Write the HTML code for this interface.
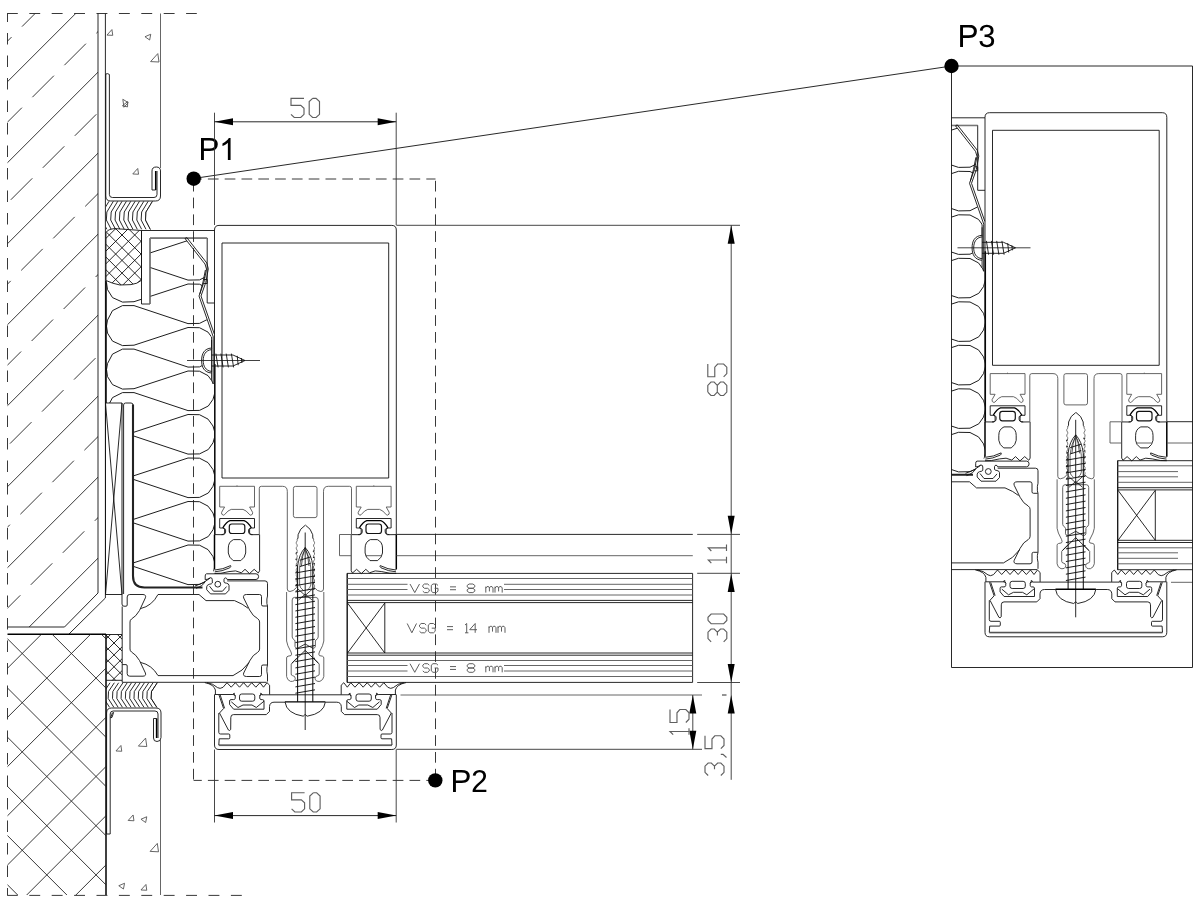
<!DOCTYPE html>
<html lang="en"><head><meta charset="utf-8"><title>Fassadenanschluss Detail P1-P3</title>
<style>
html,body{margin:0;padding:0;background:#fff;}
body{width:1200px;height:909px;overflow:hidden;font-family:"Liberation Sans",sans-serif;}
svg{display:block;position:absolute;left:0;top:0;}
path,line,circle,rect,polyline{fill:none;stroke:#111;stroke-width:0.9;stroke-linecap:butt;stroke-linejoin:round;}
.k{stroke:#111;stroke-width:0.9;}
.t{stroke:#000;stroke-width:1.5;}
.g{stroke:#555;stroke-width:0.9;}
.h{stroke:#222;stroke-width:0.9;}
.gl{stroke:#777;stroke-width:1.3;}
.w{fill:#fff;}
.txt{stroke:#5f5f5f;stroke-width:1.15;stroke-linejoin:miter;}
.txs{stroke:#555;stroke-width:0.95;stroke-linejoin:miter;}
.dash{stroke:#222;stroke-width:0.9;}
.fillk{fill:#000;stroke:none;}
text{font-family:"Liberation Sans",sans-serif;font-size:31px;fill:#000;stroke:#000;stroke-width:0.45;}
</style></head><body>
<svg width="1200" height="909" viewBox="0 0 1200 909">
<defs>
<clipPath id="wallclip"><path d="M7.5,13.5 H98 V593 L64,627 H7.5 Z"/></clipPath>
<clipPath id="insclip"><rect x="7.5" y="634.5" width="98.5" height="260.5"/></clipPath>
<clipPath id="detclip"><rect x="951.5" y="66" width="241" height="601.5"/></clipPath>
<clipPath id="tape1"><path d="M106,201 H152.5 L146,212 L145.5,220 L150.5,229.6 H106 Z"/></clipPath>
<clipPath id="tape2"><path d="M106,682.5 H157.5 L151.5,693 L151.5,698 L157,707.5 H106 Z"/></clipPath>
<clipPath id="rodclip"><path d="M106,232.5 Q108,229 115,228.6 L141.5,230.5 V280.3 Q137,284 131,284.6 L120,285 Q112,283.5 106,280.5 Z"/></clipPath>
<clipPath id="stripclip"><rect x="106" y="634.5" width="16" height="46"/></clipPath>
<clipPath id="serp"><path d="M150,238.5 H185 L205,264 L206.5,269 L204,282 L199,296 L211.5,334 V384 L214.3,392 V571 L205.3,574 V581 L202,586.5 H143 Q133.5,586 133.5,576 V403 H105.5 V282 L120,285.5 L132,285 L141.5,281 V304.5 H150 Z"/></clipPath>
<g id="drw">
<g clip-path="url(#wallclip)"><path class="h" d="M0,89.2 L89.2,0 M0,170.2 L170.2,0 M0,251.2 L251.2,0 M0,332.2 L332.2,0 M0,413.2 L413.2,0 M0,494.2 L494.2,0 M0,575.2 L575.2,0 M0,656.2 L656.2,0 M0,737.2 L737.2,0"/>
<path class="h" d="M-42,90.6 L-20.5,69.1 M-10,58.6 L11.5,37.1 M22,26.6 L43.5,5.1 M54,-5.4 L75.5,-26.9 M86,-37.4 L107.5,-58.9 M-63.6,193.2 L-42.1,171.7 M-31.6,161.2 L-10.1,139.7 M0.4,129.2 L21.9,107.7 M32.4,97.2 L53.9,75.7 M64.4,65.2 L85.9,43.7 M96.4,33.2 L117.9,11.7 M-53.2,263.8 L-31.7,242.3 M-21.2,231.8 L0.3,210.3 M10.8,199.8 L32.3,178.3 M42.8,167.8 L64.3,146.3 M74.8,135.8 L96.3,114.3 M-42.8,334.4 L-21.3,312.9 M-10.8,302.4 L10.7,280.9 M21.2,270.4 L42.7,248.9 M53.2,238.4 L74.7,216.9 M85.2,206.4 L106.7,184.9 M-32.4,405 L-10.9,383.5 M-0.4,373 L21.1,351.5 M31.6,341 L53.1,319.5 M63.6,309 L85.1,287.5 M95.6,277 L117.1,255.5 M-54,507.6 L-32.5,486.1 M-22,475.6 L-0.5,454.1 M10,443.6 L31.5,422.1 M42,411.6 L63.5,390.1 M74,379.6 L95.5,358.1 M-43.6,578.2 L-22.1,556.7 M-11.6,546.2 L9.9,524.7 M20.4,514.2 L41.9,492.7 M52.4,482.2 L73.9,460.7 M84.4,450.2 L105.9,428.7 M-33.2,648.8 L-11.7,627.3 M-1.2,616.8 L20.3,595.3 M30.8,584.8 L52.3,563.3 M62.8,552.8 L84.3,531.3 M94.8,520.8 L116.3,499.3 M-54.8,751.4 L-33.3,729.9 M-22.8,719.4 L-1.3,697.9 M9.2,687.4 L30.7,665.9 M41.2,655.4 L62.7,633.9 M73.2,623.4 L94.7,601.9"/></g>
<path class="k" d="M98,13.5 V593 L64.5,627 H7.5"/>
<path class="k" d="M105.4,13.5 V598 L69,634"/>
<path class="t" d="M7.5,634.2 H106"/>
<path class="t" d="M106,634 V895"/>
<g clip-path="url(#insclip)"><path class="h" d="M0,478.9 L478.9,0 M0,528.1 L528.1,0 M0,577.3 L577.3,0 M0,626.5 L626.5,0 M0,675.7 L675.7,0 M0,724.9 L724.9,0 M0,774.1 L774.1,0 M0,823.3 L823.3,0 M0,872.5 L872.5,0 M0,921.7 L921.7,0 M0,970.9 L970.9,0 M0,1020.1 L1020.1,0 M0,975.7 L200,1175.7 M0,926.5 L200,1126.5 M0,877.3 L200,1077.3 M0,828.1 L200,1028.1 M0,778.9 L200,978.9 M0,729.7 L200,929.7 M0,680.5 L200,880.5 M0,631.3 L200,831.3 M0,582.1 L200,782.1 M0,532.9 L200,732.9 M0,483.7 L200,683.7 M0,434.5 L200,634.5 M0,385.3 L200,585.3 M0,336.1 L200,536.1 M0,286.9 L200,486.9 M0,237.7 L200,437.7 M0,188.5 L200,388.5 M0,139.3 L200,339.3 M0,90.1 L200,290.1 M0,40.9 L200,240.9 M0,-8.3 L200,191.7 M0,-57.5 L200,142.5 M0,-106.7 L200,93.3"/></g>
<path class="g" d="M106.97,35.08 L112.75,35.35 L111.92,29.58Z M144.97,36.73 L150.75,34.25 L149.65,40.02Z M150.6,61.6 L159,62 L157.8,53.6Z M123.95,107.26 L128.23,102.63 L122.82,99.27Z M122.4,105.74 L127.53,106.9 L127.7,101.6Z M132.78,173.97 L138.55,174.25 L137.73,168.47Z M115.97,750.98 L121.75,751.25 L120.92,745.48Z M138.4,746.1 L146.8,746.5 L145.6,738.1Z M128.17,820.48 L133.95,820.75 L133.12,814.98Z M140.97,819.23 L146.75,816.75 L145.65,822.52Z M150.1,851.4 L158.5,851.8 L157.3,843.4Z M118.77,885.73 L124.55,883.25 L123.45,889.02Z M140.97,889.98 L146.75,890.25 L145.93,884.48Z"/>
<path class="k" d="M105.8,74 V196 Q105.8,201 110.8,201 H155.5 Q160.5,201 160.5,196 V171 Q160.5,167 156.3,167 Q152,167 152,171 V190 H155.6"/>
<path class="k" d="M109.4,74.5 V194.5 Q109.4,197.5 112.4,197.5 H154 Q157,197.5 157,194.5 V171"/>
<path class="k" d="M105.8,74 Q107.6,73 109.4,74.5"/>
<path class="t" d="M155.7,171 V190"/>
<path class="g" d="M160.5,13.5 V168"/>
<path class="k" d="M106.6,834 V713 Q106.6,708 111.6,708 H156 Q161,708 161,713 V737.5 Q161,741.5 157,741.5 Q153.5,741.5 153.5,738 V718.5 H156.7"/>
<path class="k" d="M110.2,834 V714 Q110.2,711 113.2,711 H155 Q158,711 158,714 V738"/>
<path class="k" d="M106.6,834 H110.2"/>
<path class="t" d="M156.6,718.5 V738"/>
<path class="g" d="M160.5,740 V895"/>
<path class="k" d="M112.3,713 l1.3,-0.6 l-1.6,5 l-1.3,0.4 Z"/>
<g clip-path="url(#tape1)"><path class="k" d="M152.5,201.3 L146,212 L145.5,220 L150.5,229.6 M148.15,201.3 L141.65,212 L141.15,220 L146.15,229.6 M143.8,201.3 L137.3,212 L136.8,220 L141.8,229.6 M139.45,201.3 L132.95,212 L132.45,220 L137.45,229.6 M135.1,201.3 L128.6,212 L128.1,220 L133.1,229.6 M130.75,201.3 L124.25,212 L123.75,220 L128.75,229.6 M126.4,201.3 L119.9,212 L119.4,220 L124.4,229.6 M122.05,201.3 L115.55,212 L115.05,220 L120.05,229.6 M117.7,201.3 L111.2,212 L110.7,220 L115.7,229.6 M113.35,201.3 L106.85,212 L106.35,220 L111.35,229.6 M109,201.3 L102.5,212 L102,220 L107,229.6 M104.65,201.3 L98.15,212 L97.65,220 L102.65,229.6 M100.3,201.3 L93.8,212 L93.3,220 L98.3,229.6" style="stroke-width:0.9"/></g>
<path class="k" d="M152.5,201.3 L146,212 L145.5,220 L150.5,229.6"/>
<g clip-path="url(#tape2)"><path class="k" d="M157.5,682.5 L151.5,691.5 L151.2,698.5 L157,707.5 M153.2,682.5 L147.2,691.5 L146.9,698.5 L152.7,707.5 M148.9,682.5 L142.9,691.5 L142.6,698.5 L148.4,707.5 M144.6,682.5 L138.6,691.5 L138.3,698.5 L144.1,707.5 M140.3,682.5 L134.3,691.5 L134,698.5 L139.8,707.5 M136,682.5 L130,691.5 L129.7,698.5 L135.5,707.5 M131.7,682.5 L125.7,691.5 L125.4,698.5 L131.2,707.5 M127.4,682.5 L121.4,691.5 L121.1,698.5 L126.9,707.5 M123.1,682.5 L117.1,691.5 L116.8,698.5 L122.6,707.5 M118.8,682.5 L112.8,691.5 L112.5,698.5 L118.3,707.5 M114.5,682.5 L108.5,691.5 L108.2,698.5 L114,707.5 M110.2,682.5 L104.2,691.5 L103.9,698.5 L109.7,707.5 M105.9,682.5 L99.9,691.5 L99.6,698.5 L105.4,707.5 M101.6,682.5 L95.6,691.5 L95.3,698.5 L101.1,707.5" style="stroke-width:0.9"/></g>
<path class="k" d="M157.5,682.5 L151.5,691.5 L151.2,698.5 L157,707.5"/>
<g clip-path="url(#rodclip)"><path class="k" d="M-144.6,400 L255.4,0 M-131.9,400 L268.1,0 M-119.2,400 L280.8,0 M-106.5,400 L293.5,0 M-93.8,400 L306.2,0 M-81.1,400 L318.9,0 M-68.4,400 L331.6,0 M-55.7,400 L344.3,0 M-43,400 L357,0 M-30.3,400 L369.7,0 M-17.6,400 L382.4,0 M-4.9,400 L395.1,0 M7.8,400 L407.8,0 M20.5,400 L420.5,0 M33.2,400 L433.2,0 M45.9,400 L445.9,0 M58.6,400 L458.6,0 M0,214.6 L300,514.6 M0,201.9 L300,501.9 M0,189.2 L300,489.2 M0,176.5 L300,476.5 M0,163.8 L300,463.8 M0,151.1 L300,451.1 M0,138.4 L300,438.4 M0,125.7 L300,425.7 M0,113 L300,413 M0,100.3 L300,400.3 M0,87.6 L300,387.6 M0,74.9 L300,374.9 M0,62.2 L300,362.2 M0,49.5 L300,349.5 M0,36.8 L300,336.8 M0,24.1 L300,324.1 M0,11.4 L300,311.4" style="stroke-width:0.9"/></g>
<path class="k" d="M106,232.5 Q108,229 115,228.6 L141.5,230.5 V280.3 Q137,284 131,284.6 L120,285 Q112,283.5 106,280.5 Z"/>
<g clip-path="url(#stripclip)"><path class="k" d="M-190.6,900 L709.4,0 M-178.7,900 L721.3,0 M-166.8,900 L733.2,0 M-154.9,900 L745.1,0 M-143,900 L757,0 M-131.1,900 L768.9,0 M-119.2,900 L780.8,0 M-107.3,900 L792.7,0 M-95.4,900 L804.6,0 M-83.5,900 L816.5,0 M-71.6,900 L828.4,0 M0,588.5 L300,888.5 M0,576.6 L300,876.6 M0,564.7 L300,864.7 M0,552.8 L300,852.8 M0,540.9 L300,840.9 M0,529 L300,829 M0,517.1 L300,817.1 M0,505.2 L300,805.2 M0,493.3 L300,793.3 M0,481.4 L300,781.4" style="stroke-width:0.9"/></g>
<path class="k" d="M106,680.3 H122 M106,634.5 H122"/>
<g clip-path="url(#serp)"><path class="k" d="M134,215.3 L188,197 L199.5,197.2 L208,201.6 L213,208.5 L215.4,216.8 L213,225.3 L208.3,232 L199.5,236.4 L188,236.6 L134,218.6 L122.5,218.6 L112.5,223.6 L107.5,233.1 L106.5,239.1 L107.5,246.1 L112.5,254.1 L122.5,258.6 L134,258.2  L188,240.5 L199.5,240.7 L208,245.1 L213,252 L215.4,260.3 L213,268.8 L208.3,275.5 L199.5,279.9 L188,280.1 L134,262.1 L122.5,262.1 L112.5,267.1 L107.5,276.6 L106.5,282.6 L107.5,289.6 L112.5,297.6 L122.5,302.1 L134,301.7  L188,284 L199.5,284.2 L208,288.6 L213,295.5 L215.4,303.8 L213,312.3 L208.3,319 L199.5,323.4 L188,323.6 L134,305.6 L122.5,305.6 L112.5,310.6 L107.5,320.1 L106.5,326.1 L107.5,333.1 L112.5,341.1 L122.5,345.6 L134,345.2  L188,327.5 L199.5,327.7 L208,332.1 L213,339 L215.4,347.3 L213,355.8 L208.3,362.5 L199.5,366.9 L188,367.1 L134,349.1 L122.5,349.1 L112.5,354.1 L107.5,363.6 L106.5,369.6 L107.5,376.6 L112.5,384.6 L122.5,389.1 L134,388.7  L188,371 L199.5,371.2 L208,375.6 L213,382.5 L215.4,390.8 L213,399.3 L208.3,406 L199.5,410.4 L188,410.6 L134,392.6 L122.5,392.6 L112.5,397.6 L107.5,407.1 L106.5,413.1 L107.5,420.1 L112.5,428.1 L122.5,432.6 L134,432.2  L188,414.5 L199.5,414.7 L208,419.1 L213,426 L215.4,434.3 L213,442.8 L208.3,449.5 L199.5,453.9 L188,454.1 L134,436.1 L122.5,436.1 L112.5,441.1 L107.5,450.6 L106.5,456.6 L107.5,463.6 L112.5,471.6 L122.5,476.1 L134,475.7  L188,458 L199.5,458.2 L208,462.6 L213,469.5 L215.4,477.8 L213,486.3 L208.3,493 L199.5,497.4 L188,497.6 L134,479.6 L122.5,479.6 L112.5,484.6 L107.5,494.1 L106.5,500.1 L107.5,507.1 L112.5,515.1 L122.5,519.6 L134,519.2  L188,501.5 L199.5,501.7 L208,506.1 L213,513 L215.4,521.3 L213,529.8 L208.3,536.5 L199.5,540.9 L188,541.1 L134,523.1 L122.5,523.1 L112.5,528.1 L107.5,537.6 L106.5,543.6 L107.5,550.6 L112.5,558.6 L122.5,563.1 L134,562.7  L188,545 L199.5,545.2 L208,549.6 L213,556.5 L215.4,564.8 L213,573.3 L208.3,580 L199.5,584.4 L188,584.6 L134,566.6 L122.5,566.6 L112.5,571.6 L107.5,581.1 L106.5,587.1 L107.5,594.1 L112.5,602.1 L122.5,606.6 L134,606.2  L188,588.5 L199.5,588.7 L208,593.1 L213,600 L215.4,608.3 L213,616.8 L208.3,623.5 L199.5,627.9 L188,628.1 L134,610.1 L122.5,610.1 L112.5,615.1 L107.5,624.6 L106.5,630.6 L107.5,637.6 L112.5,645.6 L122.5,650.1 L134,649.7  L188,632 L199.5,632.2 L208,636.6 L213,643.5 L215.4,651.8 L213,660.3 L208.3,667 L199.5,671.4 L188,671.6 L134,653.6 L122.5,653.6 L112.5,658.6 L107.5,668.1 L106.5,674.1 L107.5,681.1 L112.5,689.1 L122.5,693.6 L134,693.2" style="stroke-width:0.95"/></g>
<path class="k" d="M141.5,304 V230.5 H214.5 M141.5,304 H150 V238 H207.2 V303 H214.5"/>
<path class="gl" d="M150,304 V238.6"/>
<path class="gl" d="M150,238.3 H207"/>
<path class="k" d="M185,238.5 L205,264 L206.5,269 L204,282 L199,296 L213.3,337 M186.8,237.6 L206.8,263 L208.3,268.8 L205.8,282.4 L201,296 L214.3,334"/>
<path class="k" d="M185,238.5 L186.8,237.6"/>
<path class="k" d="M205.4,270 L203,282 L199.8,294"/>
<path class="k" d="M204,279.5 H207.2 V283.5 H203.8"/>
<path class="k" d="M211.6,337 V372 M211.6,349 V340 M213.2,337 V384 L211.6,380 V373"/>
<path class="k w" d="M211.6,348 C204,348.5 201.6,354 201.6,360.5 C201.6,367 204,372.5 211.6,373 Z"/>
<path class="k" d="M211.6,349.6 C205.5,350.2 203.2,355 203.2,360.5 C203.2,366 205.5,370.8 211.6,371.4"/>
<path class="t" d="M214.8,364 V534.5"/>
<path class="k" d="M187,360.5 H260" style="stroke-width:0.8"/>
<path class="k" d="M211.6,355 H233 L245,360.5 L233,366 H211.6"/>
<path class="k" d="M215.9,353.6 L218.1,367.4 M220.9,353.6 L223.1,367.4 M226.2,353.6 L228.4,367.4 M231.4,353.6 L233.6,367.4 M237.2,355.8 L238.2,365.2 M241.3,358 L241.9,363"/>
<path class="t" d="M106,281 V403"/>
<path class="k" d="M105.5,403 H122 V594.5 H105.5 Z"/>
<path class="k" d="M105.5,403 L122,594.5 M122,403 L105.5,594.5" style="stroke-width:0.9"/>
<path class="k" d="M123.6,594 V405 Q123.6,403 125.6,403 H131 Q133,403 133,405"/>
<path class="t" d="M133,404.5 V576 Q133,587.5 144.5,587.5 H202.5" style="stroke-width:2.1;stroke:#222"/>
<path class="k" d="M122,594.5 V604 Q122,606.2 124,606.2 H126 Q127.2,606.2 127.2,605 V597 Q127.2,594.5 129.7,594.5 H143 Q146.4,594.7 145.4,597.8 L139.5,610.5 Q136,616.5 131.5,619 Q130,620 130,622 V649 Q130,651 131.5,652 Q136,654.5 139.5,660.5 L145.4,673 Q146.4,676 143,676.2 H129.7 Q127.2,676.2 127.2,673.7 V666 Q127.2,664.6 126,664.6 H122.3 M140.5,608.6 Q152,606 158,594.5 H199 L206,600.6 H234.5 Q243,604 248,608.2 M140.5,662.4 Q152,665 158,675.6 H233 Q243,671 249,662.6 M267.3,606 H263 Q261.5,606 261.5,604.5 V596.5 Q261.5,594.5 259.5,594.5 H246.5 Q242.6,594.7 243.7,598 L249.6,610 Q253,616.5 257.6,618.6 Q259.6,620 259.6,622 V649 Q259.6,651 257.6,652.4 Q253,654.5 249.6,661 L243.7,673 Q242.6,676.3 246.5,676.5 H259.5 Q261.5,676.5 261.5,674.5 V666.5 Q261.5,665 263,665 H267.3"/>
<path class="k" d="M122.2,606.5 V682.3 H266.7"/>
<path class="k" d="M227.2,580.9 H265 Q267.5,580.9 267.5,583.4 V596 L266.9,599 V603.5 L267.5,606 V665 L266.9,668 V671.5 L267.5,675 V681.5"/>
<path class="k" d="M206.5,573.8 H256 Q258.6,573.8 258.6,576.6 Q258.6,579.4 256,579.5 H227.2"/>
<path class="k" d="M206.5,573.8 Q205.2,574 205.2,576 V579.7"/>
<path class="k" d="M205.2,579.7 Q207.5,579.6 210.4,577.7 Q212.3,577.6 212.3,579.7 V583 Q212,584 209.2,584.3 Q206.9,585 206.7,586.8 V589.7 L210.5,593.9 H225.5 L229,590.2 V585.3 Q228.8,583.6 226.5,583.2 Q224,583 224,582 V579.3 Q224.3,578 225.5,577.9 Q226.8,578 227.2,579.5"/>
<path class="k" d="M209.5,586.2 L213.5,591.2 H222.5 L226.5,586.6"/>
<circle class="k" cx="217.8" cy="584.2" r="2.9"/>
<path class="k" d="M205.2,581.5 Q203,586 196,588.3 M210.2,578 Q204,583.5 195,586"/>
<path class="k" d="M214.5,534.5 V230 Q214.5,225.4 219,225.4 H391.8 Q396.3,225.4 396.3,230 V534.5"/>
<path class="k" d="M222,243 H388.7 V478 H222 Z"/>
<path class="g" d="M295.4,486.4 H315 Q317,486.4 317,488.4 V515.6 Q317,517.6 315,517.6 H295.4 Q293.4,517.6 293.4,515.6 V488.4 Q293.4,486.4 295.4,486.4 Z"/>
<path class="g" d="M219.7,486.3 L254.5,486.3 L254.5,507 L249.6,507 L252.6,512.3 Q253.2,514.6 250.8,515.2 L249.8,514.8 Q246,510 243,509.4 L231.2,509.4 Q228.2,510 224.4,514.8 L223.4,515.2 Q221,514.6 221.6,512.3 L224.6,507 L219.7,507 L219.7,486.3"/>
<path class="g" d="M391.1,486.3 L356.3,486.3 L356.3,507 L361.2,507 L358.2,512.3 Q357.6,514.6 360,515.2 L361,514.8 Q364.8,510 367.8,509.4 L379.6,509.4 Q382.6,510 386.4,514.8 L387.4,515.2 Q389.8,514.6 389.2,512.3 L386.2,507 L391.1,507 L391.1,486.3"/>
<path class="g" d="M237,485.4 L237,486.3"/>
<path class="g" d="M373.8,485.4 L373.8,486.3"/>
<path class="k" d="M214.5,534.6 L223.3,534.7 Q225.6,534 225.6,532 L225.6,529.6 Q225,528 223,528 L219.7,528 L219.7,518.5 L254.5,518.5 L254.5,528 L251.2,528 Q249.2,528 248.6,529.6 L248.6,532 Q248.6,534 250.9,534.7 L259.3,534.6"/>
<path class="k" d="M396.3,534.6 L387.5,534.7 Q385.2,534 385.2,532 L385.2,529.6 Q385.8,528 387.8,528 L391.1,528 L391.1,518.5 L356.3,518.5 L356.3,528 L359.6,528 Q361.6,528 362.2,529.6 L362.2,532 Q362.2,534 359.9,534.7 L351.5,534.6"/>
<path class="g" d="M259.3,534.6 L259.3,488.3 Q259.3,486.3 261.3,486.3 L282.5,486.3 Q287.3,486.3 287.3,491.3 L287.3,589 Q287.3,591.5 290,591.5 Q293.5,591.3 296.4,587.6"/>
<path class="g" d="M351.5,534.6 L351.5,488.3 Q351.5,486.3 349.5,486.3 L328.3,486.3 Q323.5,486.3 323.5,491.3 L323.5,589 Q323.5,591.5 320.8,591.5 Q317.3,591.3 314.4,587.6"/>
<path class="k" d="M305.3,525.2 Q299.8,528.5 298.1,534.7 L298,538 L297.2,539.5"/>
<path class="k" d="M305.5,525.2 Q311,528.5 312.7,534.7 L312.8,538 L313.6,539.5"/>
<path class="g" d="M297.2,539.5 L297.2,540.85 L296.3,542.2 L296.3,543.55 L297.2,544.9 L297.2,546.25 L296.3,547.6 L296.3,548.95 L297.2,550.3 L297.2,551.65 L296.3,553 L296.3,554.35 L297.2,555.7 L297.2,557.05 L296.3,558.4 L296.3,559.75 L297.2,561.1 L297.2,562.45 L296.3,563.8 L296.3,565.15 L297.2,566.5 L297.2,567.85 L296.3,569.2 L296.3,570.55 L297.2,571.9 L297.2,573.25 L296.3,574.6 L296.3,575.95 L297.2,577.3 L297.2,578.65 L296.3,580 L296.3,581.35 L297.2,582.7 L297.2,584.05 L296.3,585.4 L296.3,586.75 L297.2,588.1" style="stroke-width:0.8"/>
<path class="g" d="M313.6,539.5 L313.6,540.85 L314.5,542.2 L314.5,543.55 L313.6,544.9 L313.6,546.25 L314.5,547.6 L314.5,548.95 L313.6,550.3 L313.6,551.65 L314.5,553 L314.5,554.35 L313.6,555.7 L313.6,557.05 L314.5,558.4 L314.5,559.75 L313.6,561.1 L313.6,562.45 L314.5,563.8 L314.5,565.15 L313.6,566.5 L313.6,567.85 L314.5,569.2 L314.5,570.55 L313.6,571.9 L313.6,573.25 L314.5,574.6 L314.5,575.95 L313.6,577.3 L313.6,578.65 L314.5,580 L314.5,581.35 L313.6,582.7 L313.6,584.05 L314.5,585.4 L314.5,586.75 L313.6,588.1" style="stroke-width:0.8"/>
<path class="t" d="M214.5,534.6 L214.5,569.5"/>
<path class="t" d="M396.3,534.6 L396.3,569.5"/>
<path class="k" d="M259.6,534.6 L259.6,570.8 L258.3,573 L254.2,569.3 L249.5,573.6 L245,569.3 L241.3,572.8 Q236,569.6 229,571.6 Q220,574 214.5,573.4"/>
<path class="k" d="M351.2,534.6 L351.2,570.8 L352.5,573 L356.6,569.3 L361.3,573.6 L365.8,569.3 L369.5,572.8 Q374.8,569.6 381.8,571.6 Q390.8,574 396.3,573.4"/>
<path class="k" d="M214.8,570 Q223,569.5 230.6,565.6 Q231.3,566.8 229.8,567.8 Q222,571.5 214.8,571.8"/>
<path class="k" d="M396,570 Q387.8,569.5 380.2,565.6 Q379.5,566.8 381,567.8 Q388.8,571.5 396,571.8"/>
<path class="t" d="M222.8,527.8 Q226.5,521.8 230,520.6 L244,520.6 Q247.7,521.8 251.4,527.8" style="stroke-width:1.3"/>
<path class="t" d="M388,527.8 Q384.3,521.8 380.8,520.6 L366.8,520.6 Q363.1,521.8 359.4,527.8" style="stroke-width:1.3"/>
<path class="k" d="M222.8,527.8 Q225.4,528.6 224.6,531 L224.6,533 Q224,534.8 221.5,534.6"/>
<path class="k" d="M388,527.8 Q385.4,528.6 386.2,531 L386.2,533 Q386.8,534.8 389.3,534.6"/>
<path class="k" d="M251.4,527.8 Q248.8,528.6 249.6,531 L249.6,533 Q250.2,534.8 252.7,534.6"/>
<path class="k" d="M359.4,527.8 Q362,528.6 361.2,531 L361.2,533 Q360.6,534.8 358.1,534.6"/>
<path class="k" d="M231.8,524 L242.3,524 Q244.8,524 244.8,526.5 L244.8,531 Q244.8,533.5 242.3,533.5 L231.8,533.5 Q229.3,533.5 229.3,531 L229.3,526.5 Q229.3,524 231.8,524" style="stroke-width:1.2"/>
<path class="k" d="M379,524 L368.5,524 Q366,524 366,526.5 L366,531 Q366,533.5 368.5,533.5 L379,533.5 Q381.5,533.5 381.5,531 L381.5,526.5 Q381.5,524 379,524" style="stroke-width:1.2"/>
<path class="k" d="M233.5,539.6 L240.5,539.6 Q245.7,542 245.7,548 L245.7,553 Q245.2,557.5 240.8,560.6 L233.2,560.6 Q228.8,557.5 228.3,553 L228.3,548 Q228.3,542 233.5,539.6" style="stroke-width:0.9"/>
<path class="k" d="M377.3,539.6 L370.3,539.6 Q365.1,542 365.1,548 L365.1,553 Q365.6,557.5 370,560.6 L377.6,560.6 Q382,557.5 382.5,553 L382.5,548 Q382.5,542 377.3,539.6" style="stroke-width:0.9"/>
<path class="g" d="M351,534.5 H339.5 V555.7 H351"/>
<path class="k" d="M396.5,534.4 H692.8"/>
<path class="g" d="M396.5,555.7 H692.8"/>
<path class="k" d="M347,573.4 H692.6 V682.4 H347 Z"/>
<path class="k" d="M347.4,573.4 V682.4"/>
<path class="g" d="M347,578.5 H692.6 M347,584.3 H407.5 M504,584.3 H692.6 M347,589.5 H407.5 M504,589.5 H692.6 M347,595 H692.6 M347,660.5 H692.6 M347,665.5 H407.5 M504,665.5 H692.6 M347,671 H407.5 M504,671 H692.6 M347,676.5 H692.6"/>
<path class="k" d="M347,600.4 H692.6 M347,602.6 H692.6 M347,653 H692.6 M347,655.2 H692.6"/>
<path class="g" d="M365.4,555.7 H381.2"/>
<path class="k" d="M384.8,603 V653 M347.5,603 L384.8,653 M384.8,603 L347.5,653"/>
<path class="g" d="M286.6,592 L286.6,641 Q287,645 291,652 Q292.2,654.5 291,655.6 L288,656.2 Q286.6,656.6 286.6,658 L286.6,676.5 Q287,680 290.5,681.4 Q295,681.8 295.3,678.5 Q295.2,676 292.5,675.6 Q291.2,675.4 291.2,674 L291.2,664 L297,657.8"/>
<path class="g" d="M323.8,592 L323.8,641 Q323.4,645 319.4,652 Q318.2,654.5 319.4,655.6 L322.4,656.2 Q323.8,656.6 323.8,658 L323.8,676.5 Q323.4,680 319.9,681.4 Q315.4,681.8 315.1,678.5 Q315.2,676 317.9,675.6 Q319.2,675.4 319.2,674 L319.2,664 L313.4,657.8"/>
<path class="k" d="M292,663.2 L305.2,650.4 L318.4,663.2"/>
<path class="g" d="M305.2,597.4 L294.5,597.4 Q292.2,597.6 292.2,600 L292.2,637 Q292.4,639 294.5,640 L295,641 L295,646.5 Q295.3,648 297.2,648.4"/>
<path class="g" d="M305.2,597.4 L315.9,597.4 Q318.2,597.6 318.2,600 L318.2,637 Q318,639 315.9,640 L315.4,641 L315.4,646.5 Q315.1,648 313.2,648.4"/>
<path class="k" d="M298,589 L305.2,595.5 L312.4,589 M298.5,600 L305.2,594.2 L312,600" style="stroke-width:0.8"/>
<path class="k" d="M297.4,648.4 L305.2,644 L313,648.4" style="stroke-width:0.8"/>
<path class="k" d="M305.2,532.5 V730"/>
<path class="k" d="M297.6,566 V701.8 M312.8,566 V701.8" style="stroke-width:1.05"/>
<path class="k" d="M305.2,547.6 Q299,554 297.6,566 M305.2,547.6 Q311.4,554 312.8,566"/>
<path class="g" d="M305.2,549.6 Q300.8,556 299.6,568 V585 Q300,588 303,590 M305.2,549.6 Q309.6,556 310.8,568 V585 Q310.4,588 307.4,590"/>
<path class="k" d="M305.2,547.6 Q302,556 301.4,566 M305.2,547.6 Q308.4,556 309,566" style="stroke-width:0.7"/>
<path class="k" d="M299.7,560.3 L310.7,556.9 M299.7,566.63 L310.7,563.23 M295.4,572.96 L315,569.56 M295.4,579.29 L315,575.89 M295.4,585.62 L315,582.22 M295.4,591.95 L315,588.55 M295.4,598.28 L315,594.88 M295.4,604.61 L315,601.21 M295.4,610.94 L315,607.54 M295.4,617.27 L315,613.87 M295.4,623.6 L315,620.2 M295.4,629.93 L315,626.53 M295.4,636.26 L315,632.86 M295.4,642.59 L315,639.19 M295.4,648.92 L315,645.52 M295.4,655.25 L315,651.85 M295.4,661.58 L315,658.18 M295.4,667.91 L315,664.51 M295.4,674.24 L315,670.84 M295.4,680.57 L315,677.17 M295.4,686.9 L315,683.5 M295.4,693.23 L315,689.83" style="stroke-width:0.95"/>
<path class="k" d="M295.6,553.2 L297.5,552.6 M312.9,551.4 L314.8,550.8 M295.6,559.53 L297.5,558.93 M312.9,557.73 L314.8,557.13 M295.6,565.86 L297.5,565.26 M312.9,564.06 L314.8,563.46 M295.6,572.19 L297.5,571.59 M312.9,570.39 L314.8,569.79 M295.6,578.52 L297.5,577.92 M312.9,576.72 L314.8,576.12 M295.6,584.85 L297.5,584.25 M312.9,583.05 L314.8,582.45 M295.6,591.18 L297.5,590.58 M312.9,589.38 L314.8,588.78"/>
<path class="t" d="M285,701.9 H325.4" style="stroke-width:1.4"/>
<path class="k" d="M285,701.9 Q286.5,713.5 303.2,716.2 Q304.6,715.2 305.2,714.4 Q305.8,715.2 307.2,716.2 Q324,713.5 325.4,701.9"/>
<path class="k" d="M214.5,694.5 V745 Q214.5,749.5 219,749.5 H391.8 Q396.3,749.5 396.3,745 V694.5"/>
<path class="k" d="M218.8,713 L218.8,732.5 Q218.9,734 220.5,734 L228.8,734 Q229.8,734 229.8,735 L229.8,737.8 Q229.8,738.8 228.8,738.8 L219.2,738.8 L218.8,745"/>
<path class="k" d="M392,713 L392,732.5 Q391.9,734 390.3,734 L382,734 Q381,734 381,735 L381,737.8 Q381,738.8 382,738.8 L391.6,738.8 L392,745"/>
<path class="k" d="M218.8,745 H392"/>
<path class="g" d="M218.8,745.6 H392"/>
<path class="k" d="M219,695 L223.6,708.5 L219.5,713 L228.4,730 Q229.6,731.3 230.7,729.5 L230.8,717.5 Q230.8,714.6 233.5,714.6 L266.3,714.6 L269.5,711.4 L269.5,706.5 Q269.8,702.3 274,702.2"/>
<path class="k" d="M391.8,695 L387.2,708.5 L391.3,713 L382.4,730 Q381.2,731.3 380.1,729.5 L380,717.5 Q380,714.6 377.3,714.6 L344.5,714.6 L341.3,711.4 L341.3,706.5 Q341,702.3 336.8,702.2"/>
<path class="k" d="M220.2,695 L224.6,708.3"/>
<path class="k" d="M390.6,695 L386.2,708.3"/>
<path class="k" d="M274,702.2 H285 M325.6,702.2 H336.8"/>
<path class="k" d="M214.8,694.5 L232.5,694.5 Q235,694.2 235.3,696 L235.2,698.4 Q235,699.6 233.5,699.6 L231,699.6 Q229.6,699.7 229.6,701 L229.6,704.5 L233.6,709.2 L264,709.2 L264,701 Q264,699.7 262.6,699.6 L261,699.6 Q259.8,699.4 259.7,698 L259.8,696 Q260,694.3 262,694.5"/>
<path class="k" d="M396,694.5 L378.3,694.5 Q375.8,694.2 375.5,696 L375.6,698.4 Q375.8,699.6 377.3,699.6 L379.8,699.6 Q381.2,699.7 381.2,701 L381.2,704.5 L377.2,709.2 L346.8,709.2 L346.8,701 Q346.8,699.7 348.2,699.6 L349.8,699.6 Q351,699.4 351.1,698 L351,696 Q350.8,694.3 348.8,694.5"/>
<path class="k" d="M262,694.8 H348.8"/>
<path class="k" d="M231.3,701.8 L238,707.5 L243,705 L252,705 L256.3,707.5 L264,701.2"/>
<path class="k" d="M379.5,701.8 L372.8,707.5 L367.8,705 L358.8,705 L354.5,707.5 L346.8,701.2"/>
<path class="k" d="M241.7,694 L252.6,694 Q254.8,694 254.8,696.2 L254.8,699 Q254.8,701.2 252.6,701.2 L241.7,701.2 Q239.5,701.2 239.5,699 L239.5,696.2 Q239.5,694 241.7,694"/>
<path class="k" d="M369.1,694 L358.2,694 Q356,694 356,696.2 L356,699 Q356,701.2 358.2,701.2 L369.1,701.2 Q371.3,701.2 371.3,699 L371.3,696.2 Q371.3,694 369.1,694"/>
<path class="k" d="M235.3,696 Q234,694.5 234.3,693.2 Q233.3,693.6 232.5,694.5"/>
<path class="k" d="M375.5,696 Q376.8,694.5 376.5,693.2 Q377.5,693.6 378.3,694.5"/>
<path class="k" d="M259.7,696 Q261,694.5 260.7,693.2 Q261.7,693.6 262.5,694.5"/>
<path class="k" d="M351.1,696 Q349.8,694.5 350.1,693.2 Q349.1,693.6 348.3,694.5"/>
<path class="k" d="M204.8,682.6 Q214,684.5 215.4,690 L215.4,694.5"/>
<path class="k" d="M406,682.6 Q396.8,684.5 395.4,690 L395.4,694.5"/>
<path class="k" d="M207,682.6 Q213,683.5 217.5,687.6 Q220,689.3 223,687.3 L227,682.7 L231.2,687.2 L235.4,682.7 L239.5,687.2 L243.6,682.7 L247.65,687.2 L251.7,682.7 L255.85,687.2 L260,682.7 L263.5,687.2 L267,682.7 L269.6,685.2 L269.6,694.6"/>
<path class="k" d="M403.8,682.6 Q397.8,683.5 393.3,687.6 Q390.8,689.3 387.8,687.3 L383.8,682.7 L379.6,687.2 L375.4,682.7 L371.3,687.2 L367.2,682.7 L363.15,687.2 L359.1,682.7 L354.95,687.2 L350.8,682.7 L347.3,687.2 L343.8,682.7 L341.2,685.2 L341.2,694.6"/>
<path class="g" d="M400.5,695 H702"/>
</g>
</defs>
<rect x="0" y="0" width="1200" height="909" style="fill:#fff;stroke:none"/>
<use href="#drw"/>
<g clip-path="url(#detclip)"><use href="#drw" transform="translate(770.5,-112.7)"/></g>
<path class="dash" d="M7.5,13.3 V895.3" stroke-dasharray="11.5 11" stroke-dashoffset="2.8"/>
<path class="dash" d="M7.2,13.5 H196.8" stroke-dasharray="10.9 11.5" stroke-dashoffset="0.3"/>
<path class="dash" d="M7.2,895.4 H241.8" stroke-dasharray="10.9 11.5" stroke-dashoffset="0.3"/>
<path class="dash" d="M193.6,179 H435.5" stroke-dasharray="10.7 6.1" stroke-dashoffset="2.5"/>
<path class="dash" d="M193.6,780.4 H435.5" stroke-dasharray="10.7 6.1" stroke-dashoffset="2.5"/>
<path class="dash" d="M193.5,178.6 V780.4 M435.5,178.6 V780.4" stroke-dasharray="10.7 6.1" stroke-dashoffset="14.6"/>
<path class="k" d="M193.5,178.5 L951.5,66" style="stroke-width:0.9"/>
<path class="k" d="M951.5,66 H1192.5 V667.5 H951.5 Z"/>
<circle cx="193.7" cy="178.7" r="7.2" style="fill:#000;stroke:none"/>
<circle cx="435.3" cy="780.4" r="7.2" style="fill:#000;stroke:none"/>
<circle cx="951.5" cy="66" r="7.2" style="fill:#000;stroke:none"/>
<path style="fill:#000;stroke:none" transform="translate(198.63,160) scale(0.015,-0.015)" d="M158 0V1466H711Q857 1466 934 1452Q1042 1434 1115 1383.5Q1188 1333 1232.5 1242Q1277 1151 1277 1042Q1277 855 1158 725.5Q1039 596 728 596H352V0ZM352 769H731Q919 769 998 839Q1077 909 1077 1036Q1077 1128 1030.5 1193.5Q984 1259 908 1280Q859 1293 727 1293H352Z"/><path style="fill:#000;stroke:none" transform="translate(219.12,160) scale(0.015,-0.015)" d="M763 0H583V1147Q518 1085 412.5 1023Q307 961 223 930V1104Q374 1175 487 1276Q600 1377 647 1472H763Z"/>
<path style="fill:#000;stroke:none" transform="translate(450.63,792) scale(0.015,-0.015)" d="M158 0V1466H711Q857 1466 934 1452Q1042 1434 1115 1383.5Q1188 1333 1232.5 1242Q1277 1151 1277 1042Q1277 855 1158 725.5Q1039 596 728 596H352V0ZM352 769H731Q919 769 998 839Q1077 909 1077 1036Q1077 1128 1030.5 1193.5Q984 1259 908 1280Q859 1293 727 1293H352Z"/><path style="fill:#000;stroke:none" transform="translate(471.12,792) scale(0.0147,-0.01545)" d="M103 0V127Q154 244 227.5 333.5Q301 423 382 495.5Q463 568 542.5 630Q622 692 686 754Q750 816 789.5 884Q829 952 829 1038Q829 1154 761 1218Q693 1282 572 1282Q457 1282 382.5 1219.5Q308 1157 295 1044L111 1061Q131 1230 254.5 1330Q378 1430 572 1430Q785 1430 899.5 1329.5Q1014 1229 1014 1044Q1014 962 976.5 881Q939 800 865 719Q791 638 582 468Q467 374 399 298.5Q331 223 301 153H1036V0Z"/>
<path style="fill:#000;stroke:none" transform="translate(957.73,46.9) scale(0.015,-0.015)" d="M158 0V1466H711Q857 1466 934 1452Q1042 1434 1115 1383.5Q1188 1333 1232.5 1242Q1277 1151 1277 1042Q1277 855 1158 725.5Q1039 596 728 596H352V0ZM352 769H731Q919 769 998 839Q1077 909 1077 1036Q1077 1128 1030.5 1193.5Q984 1259 908 1280Q859 1293 727 1293H352Z"/><path style="fill:#000;stroke:none" transform="translate(978.22,46.9) scale(0.0152,-0.01545)" d="M1049 389Q1049 194 925 87Q801 -20 571 -20Q357 -20 229.5 76.5Q102 173 78 362L264 379Q300 129 571 129Q707 129 784.5 196Q862 263 862 395Q862 510 773.5 574.5Q685 639 518 639H416V795H514Q662 795 743.5 859.5Q825 924 825 1038Q825 1151 758.5 1216.5Q692 1282 561 1282Q442 1282 368.5 1221Q295 1160 283 1049L102 1063Q122 1236 245.5 1333Q369 1430 563 1430Q775 1430 892.5 1331.5Q1010 1233 1010 1057Q1010 922 934.5 837.5Q859 753 715 723V719Q873 702 961 613Q1049 524 1049 389Z"/>
<path class="k" d="M214.5,112.7 V225 M396.2,112.7 V225" style="stroke:#333"/>
<path class="k" d="M214.5,121.8 H396.2"/>
<path d="M214.5,121.8 L233,118.3 L233,125.3Z" style="fill:#000;stroke:none"/>
<path d="M396.2,121.8 L377.7,118.3 L377.7,125.3Z" style="fill:#000;stroke:none"/>
<path class="k" d="M214.5,749.5 V822.5 M396.2,749.5 V822.5" style="stroke:#333"/>
<path class="k" d="M214.5,815.6 H396.2"/>
<path d="M214.5,815.6 L233,812.1 L233,819.1Z" style="fill:#000;stroke:none"/>
<path d="M396.2,815.6 L377.7,812.1 L377.7,819.1Z" style="fill:#000;stroke:none"/>
<path class="k" d="M396.3,225.3 H740" style="stroke:#333"/>
<path class="k" d="M697.2,534.4 H740 M697.2,573.3 H740 M697.2,682.5 H740" style="stroke:#333"/>
<path class="k" d="M396.3,749.3 H702" style="stroke:#333"/>
<path class="k" d="M722,695 H726.5"/>
<path class="k" d="M731.2,225.3 V779.8" style="stroke:#333"/>
<path d="M731.2,225.3 L727.7,243.8 L734.7,243.8Z" style="fill:#000;stroke:none"/>
<path d="M731.2,534.3 L727.7,515.8 L734.7,515.8Z" style="fill:#000;stroke:none"/>
<path d="M731.2,573.4 L727.7,591.9 L734.7,591.9Z" style="fill:#000;stroke:none"/>
<path d="M731.2,682.4 L727.7,663.9 L734.7,663.9Z" style="fill:#000;stroke:none"/>
<path d="M731.2,695 L727.7,713.5 L734.7,713.5Z" style="fill:#000;stroke:none"/>
<path class="k" d="M692.8,695 V749.3" style="stroke:#333"/>
<path d="M692.8,695 L689.3,713.5 L696.3,713.5Z" style="fill:#000;stroke:none"/>
<path d="M692.8,749.3 L689.3,730.8 L696.3,730.8Z" style="fill:#000;stroke:none"/>
<path class="txt" transform="translate(291,98.3)" d="M13,0 L0,0 L0,7.04 L9.75,7.04 L13,9.92 L13,16 L9.75,19.2 L3.25,19.2 L0,16"/><path class="txt" transform="translate(309.2,98.3)" d="M3.43,0 L6.87,0 L10.3,3.2 L10.3,16 L6.87,19.2 L3.43,19.2 L0,16 L0,3.2 L3.43,0"/>
<path class="txt" transform="translate(291.6,792.8)" d="M13,0 L0,0 L0,7.04 L9.75,7.04 L13,9.92 L13,16 L9.75,19.2 L3.25,19.2 L0,16"/><path class="txt" transform="translate(309.8,792.8)" d="M3.43,0 L6.87,0 L10.3,3.2 L10.3,16 L6.87,19.2 L3.43,19.2 L0,16 L0,3.2 L3.43,0"/>
<path class="txt" transform="translate(707.8,395.5) rotate(-90)" d="M3.38,0 L10.12,0 L13.5,3.17 L13.5,6.33 L10.12,9.5 L3.38,9.5 L0,6.33 L0,3.17 L3.38,0 M3.38,9.5 L10.12,9.5 L13.5,12.67 L13.5,15.83 L10.12,19 L3.38,19 L0,15.83 L0,12.67 L3.38,9.5"/><path class="txt" transform="translate(707.8,376.8) rotate(-90)" d="M12.8,0 L0,0 L0,6.97 L9.6,6.97 L12.8,9.82 L12.8,15.83 L9.6,19 L3.2,19 L0,15.83"/>
<path class="txt" transform="translate(708.3,563.2) rotate(-90)" d="M0,3.03 L3.2,0 L3.2,18.2 M0,18.2 L6.4,18.2"/><path class="txt" transform="translate(708.3,551) rotate(-90)" d="M0,3.03 L3.2,0 L3.2,18.2 M0,18.2 L6.4,18.2"/>
<path class="txt" transform="translate(708,641.8) rotate(-90)" d="M0,3.13 L3.2,0 L9.6,0 L12.8,3.13 L12.8,6.27 L9.6,9.4 L6.4,9.4 M9.6,9.4 L12.8,12.53 L12.8,15.67 L9.6,18.8 L3.2,18.8 L0,15.67"/><path class="txt" transform="translate(708,623.7) rotate(-90)" d="M3.23,0 L6.47,0 L9.7,3.13 L9.7,15.67 L6.47,18.8 L3.23,18.8 L0,15.67 L0,3.13 L3.23,0"/>
<path class="txt" transform="translate(670,734.7) rotate(-90)" d="M0,3.17 L3.2,0 L3.2,19 M0,19 L6.4,19"/><path class="txt" transform="translate(670,722.5) rotate(-90)" d="M13,0 L0,0 L0,6.97 L9.75,6.97 L13,9.82 L13,15.83 L9.75,19 L3.25,19 L0,15.83"/>
<path class="txt" transform="translate(705,775.5) rotate(-90)" d="M0,3.17 L3.12,0 L9.38,0 L12.5,3.17 L12.5,6.33 L9.38,9.5 L6.25,9.5 M9.38,9.5 L12.5,12.67 L12.5,15.83 L9.38,19 L3.12,19 L0,15.83"/><path class="txt" transform="translate(705,748.6) rotate(-90)" d="M12.8,0 L0,0 L0,6.97 L9.6,6.97 L12.8,9.82 L12.8,15.83 L9.6,19 L3.2,19 L0,15.83"/>
<path class="txt" d="M720.8,754.4 H723 L726.5,757.5"/>
<path class="txs" transform="translate(410,584)" d="M0,0 L4.75,8.6 L9.5,0"/><path class="txs" transform="translate(422.8,584)" d="M6.5,1.43 L4.88,0 L1.62,0 L0,1.43 L0,2.87 L1.62,4.3 L4.88,4.3 L6.5,5.73 L6.5,7.17 L4.88,8.6 L1.62,8.6 L0,7.17"/><path class="txs" transform="translate(431.3,584)" d="M6.7,1.43 L5.02,0 L1.67,0 L0,1.43 L0,7.17 L1.67,8.6 L5.02,8.6 L6.7,7.17 L6.7,4.3 L3.35,4.3"/><path class="txs" transform="translate(450,584)" d="M0,2.87 L6,2.87 M0,5.73 L6,5.73"/><path class="txs" transform="translate(467.2,584)" d="M1.9,0 L5.7,0 L7.6,1.43 L7.6,2.87 L5.7,4.3 L1.9,4.3 L0,2.87 L0,1.43 L1.9,0 M1.9,4.3 L5.7,4.3 L7.6,5.73 L7.6,7.17 L5.7,8.6 L1.9,8.6 L0,7.17 L0,5.73 L1.9,4.3"/>
<path class="txs" d="M485.8,592.6 L485.8,586.58 M485.8,588.18 L487,586.58 L488.6,586.58 L489.4,587.98 L489.4,591.4 M489.4,587.98 L490.4,586.58 L492,586.58 L493,587.98 L493,592.6"/><path class="txs" d="M495,592.6 L495,586.58 M495,588.18 L496.2,586.58 L497.8,586.58 L498.6,587.98 L498.6,591.4 M498.6,587.98 L499.6,586.58 L501.2,586.58 L502.2,587.98 L502.2,592.6"/>
<path class="txs" transform="translate(407.2,623.5)" d="M0,0 L4.65,9.3 L9.3,0"/><path class="txs" transform="translate(419.5,623.5)" d="M6.7,1.55 L5.02,0 L1.67,0 L0,1.55 L0,3.1 L1.67,4.65 L5.02,4.65 L6.7,6.2 L6.7,7.75 L5.02,9.3 L1.67,9.3 L0,7.75"/><path class="txs" transform="translate(428.3,623.5)" d="M6.9,1.55 L5.17,0 L1.72,0 L0,1.55 L0,7.75 L1.72,9.3 L5.17,9.3 L6.9,7.75 L6.9,4.65 L3.45,4.65"/><path class="txs" transform="translate(447,623.5)" d="M0,3.1 L6,3.1 M0,6.2 L6,6.2"/><path class="txs" transform="translate(465,623.5)" d="M0,1.55 L1.7,0 L1.7,9.3 M0,9.3 L3.4,9.3"/><path class="txs" transform="translate(469.7,623.5)" d="M5.48,9.3 L5.48,0 L0,6.2 L7.3,6.2"/>
<path class="txs" d="M489,632.8 L489,626.29 M489,627.89 L490.2,626.29 L491.7,626.29 L492.5,627.69 L492.5,631.6 M492.5,627.69 L493.5,626.29 L495,626.29 L496,627.69 L496,632.8"/><path class="txs" d="M498,632.8 L498,626.29 M498,627.89 L499.2,626.29 L500.7,626.29 L501.5,627.69 L501.5,631.6 M501.5,627.69 L502.5,626.29 L504,626.29 L505,627.69 L505,632.8"/>
<path class="txs" transform="translate(410,663.7)" d="M0,0 L4.75,8.6 L9.5,0"/><path class="txs" transform="translate(422.8,663.7)" d="M6.5,1.43 L4.88,0 L1.62,0 L0,1.43 L0,2.87 L1.62,4.3 L4.88,4.3 L6.5,5.73 L6.5,7.17 L4.88,8.6 L1.62,8.6 L0,7.17"/><path class="txs" transform="translate(431.3,663.7)" d="M6.7,1.43 L5.02,0 L1.67,0 L0,1.43 L0,7.17 L1.67,8.6 L5.02,8.6 L6.7,7.17 L6.7,4.3 L3.35,4.3"/><path class="txs" transform="translate(450,663.7)" d="M0,2.87 L6,2.87 M0,5.73 L6,5.73"/><path class="txs" transform="translate(467.2,663.7)" d="M1.9,0 L5.7,0 L7.6,1.43 L7.6,2.87 L5.7,4.3 L1.9,4.3 L0,2.87 L0,1.43 L1.9,0 M1.9,4.3 L5.7,4.3 L7.6,5.73 L7.6,7.17 L5.7,8.6 L1.9,8.6 L0,7.17 L0,5.73 L1.9,4.3"/>
<path class="txs" d="M485.8,672.3 L485.8,666.28 M485.8,667.88 L487,666.28 L488.6,666.28 L489.4,667.68 L489.4,671.1 M489.4,667.68 L490.4,666.28 L492,666.28 L493,667.68 L493,672.3"/><path class="txs" d="M495,672.3 L495,666.28 M495,667.88 L496.2,666.28 L497.8,666.28 L498.6,667.68 L498.6,671.1 M498.6,667.68 L499.6,666.28 L501.2,666.28 L502.2,667.68 L502.2,672.3"/>
</svg></body></html>
